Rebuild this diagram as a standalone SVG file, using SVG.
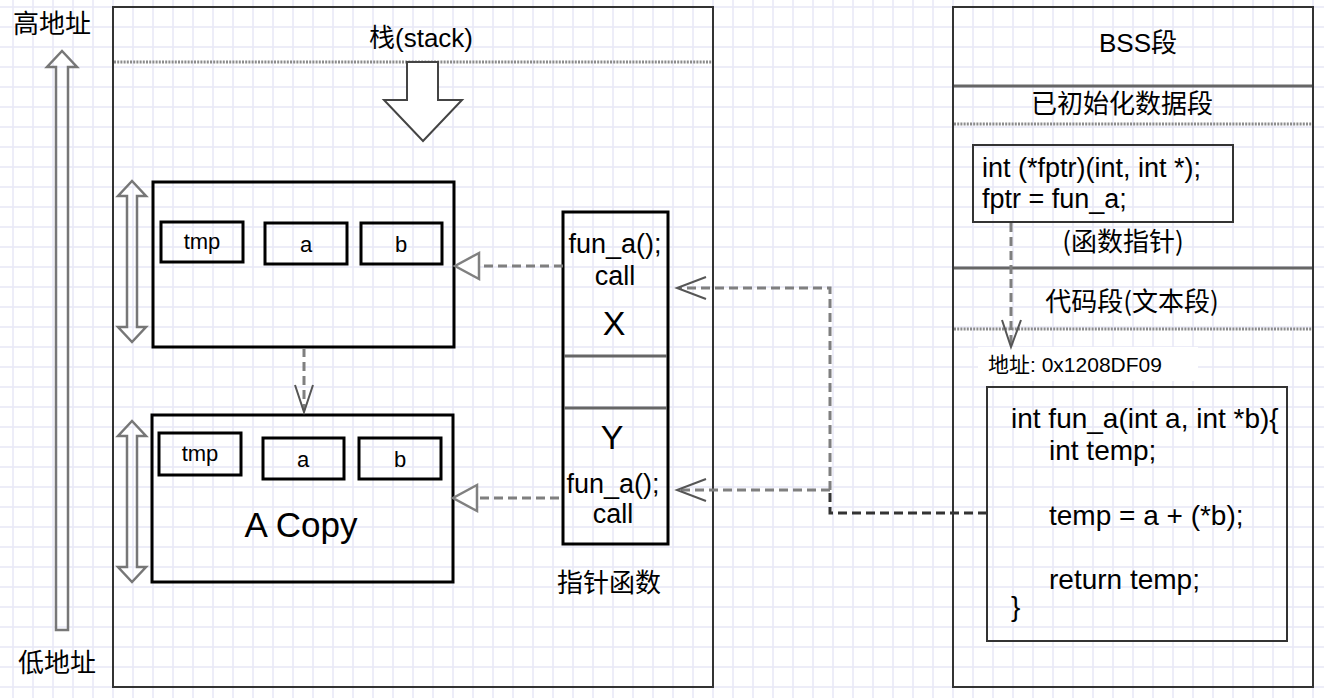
<svg xmlns="http://www.w3.org/2000/svg" width="1324" height="698" viewBox="0 0 1324 698">
<style>
  text { font-family: "Liberation Sans", "Noto Sans CJK SC", Arial, sans-serif; fill: #000; }
  .cjk { font-family: "Noto Sans CJK SC", "Liberation Sans", sans-serif; }
  .frame { fill: none; stroke: #333; stroke-width: 2; }
  .box { fill: none; stroke: #000; stroke-width: 3; }
  .cell { fill: none; stroke: #000; stroke-width: 3; }
  .thin { fill: none; stroke: #333; stroke-width: 2; }
  .dotted { stroke: #8c8c8c; stroke-width: 3; stroke-dasharray: 2 1.2; fill: none; }
  .sep { stroke: #666; stroke-width: 3; fill: none; }
  .blk { fill: none; stroke: #777; stroke-width: 2.5; stroke-linejoin: miter; }
  .dash { fill: none; stroke: #7f7f7f; stroke-width: 3; stroke-dasharray: 9 5; }
  .dashdark { fill: none; stroke: #333; stroke-width: 3; stroke-dasharray: 9 5; }
  .head { fill: none; stroke: #555; stroke-width: 2; }
  .tri { fill: #fff; stroke: #808080; stroke-width: 2.5; }
  .c { text-anchor: middle; }
</style>
<defs>
  <pattern id="grid" x="3" y="-3" width="20" height="20" patternUnits="userSpaceOnUse">
    <path d="M10 0 V20 M0 10 H20" stroke="#e8e8f6" stroke-width="1.5" fill="none"/>
  </pattern>
</defs>
<rect x="0" y="0" width="1324" height="698" fill="#fff"/>
<rect x="0" y="0" width="1324" height="698" fill="url(#grid)"/>

<!-- address axis -->
<g id="axis">
  <text class="cjk c" x="52" y="33" font-size="26">高地址</text>
  <path class="blk" fill="#fff" d="M56 630 L56 67 L47 67 L62 51 L77 67 L68 67 L68 630 Z"/>
  <text class="cjk c" x="57" y="672" font-size="26">低地址</text>
</g>

<!-- stack frame -->
<g id="stack">
  <rect class="frame" x="113" y="7" width="600" height="680"/>
  <line class="dotted" x1="114" y1="62" x2="712" y2="62"/>
  <text class="c" x="421" y="47" font-size="26"><tspan class="cjk">栈</tspan>(stack)</text>
  <path fill="#fff" stroke="#444" stroke-width="2" d="M407 62 L407 100 L384 100 L423 141 L462 100 L438 100 L438 62 Z"/>
</g>

<!-- frame A -->
<g id="frameA">
  <path class="blk" fill="#fff" d="M127 196 L118 196 L132 181 L146 196 L137 196 L137 327 L146 327 L132 342 L118 327 L127 327 Z"/>
  <rect class="box" x="153" y="182" width="301" height="165"/>
  <rect class="cell" x="161" y="222" width="82" height="40"/>
  <text class="c" x="202" y="249" font-size="22">tmp</text>
  <rect class="cell" x="265" y="223" width="82" height="41"/>
  <text class="c" x="306" y="252" font-size="22">a</text>
  <rect class="cell" x="361" y="223" width="81" height="41"/>
  <text class="c" x="401" y="252" font-size="22">b</text>
</g>

<!-- frame A copy -->
<g id="frameACopy">
  <path class="blk" fill="#fff" d="M127 436 L118 436 L132 421 L146 436 L137 436 L137 567 L146 567 L132 582 L118 567 L127 567 Z"/>
  <rect class="box" x="152" y="415" width="301" height="167"/>
  <rect class="cell" x="159" y="433" width="82" height="42"/>
  <text class="c" x="200" y="461" font-size="22">tmp</text>
  <rect class="cell" x="263" y="438" width="81" height="41"/>
  <text class="c" x="303" y="467" font-size="22">a</text>
  <rect class="cell" x="359" y="438" width="82" height="41"/>
  <text class="c" x="400" y="467" font-size="22">b</text>
  <text class="c" x="301" y="537" font-size="35">A Copy</text>
</g>

<!-- pointer function column -->
<g id="pointerFunc">
  <rect class="box" x="563" y="212" width="105" height="332"/>
  <line class="sep" x1="564" y1="356" x2="667" y2="356"/>
  <line class="sep" x1="564" y1="408" x2="667" y2="408"/>
  <text class="c" x="615" y="253" font-size="27">fun_a();</text>
  <text class="c" x="615" y="285" font-size="27">call</text>
  <text class="c" x="614" y="335" font-size="34">X</text>
  <text class="c" x="612" y="449" font-size="34">Y</text>
  <text class="c" x="613" y="493" font-size="27">fun_a();</text>
  <text class="c" x="613" y="523" font-size="27">call</text>
  <text class="cjk c" x="609" y="592" font-size="26">指针函数</text>
</g>

<!-- segments frame -->
<g id="segments">
  <rect class="frame" x="953" y="7" width="360" height="680"/>
  <text class="c" x="1138" y="52" font-size="26">BSS<tspan class="cjk">段</tspan></text>
  <line class="sep" x1="954" y1="86" x2="1312" y2="86"/>
  <text class="cjk c" x="1122" y="113" font-size="26">已初始化数据段</text>
  <line class="dotted" x1="954" y1="124" x2="1312" y2="124"/>
  <text class="cjk c" x="1123" y="251" font-size="26">(函数指针)</text>
  <line class="sep" x1="954" y1="268" x2="1312" y2="268"/>
  <text class="cjk c" x="1132" y="311" font-size="26">代码段(文本段)</text>
  <line class="dotted" x1="954" y1="329" x2="1312" y2="329"/>
</g>

<g id="fptrDecl">
  <rect class="thin" x="973" y="145" width="260" height="77"/>
  <text x="982" y="177" font-size="27">int (*fptr)(int, int *);</text>
  <text x="982" y="208" font-size="27">fptr = fun_a;</text>
</g>

<g id="addrLabel">
  <rect x="978" y="347" width="220" height="34" fill="#fff"/>
  <text x="988" y="372" font-size="21"><tspan class="cjk">地址</tspan>: 0x1208DF09</text>
</g>

<g id="funA">
  <rect class="thin" x="987" y="387" width="300" height="254"/>
  <text x="1011" y="428" font-size="28">int fun_a(int a, int *b){</text>
  <text x="1049" y="460" font-size="28">int temp;</text>
  <text x="1049" y="525" font-size="28">temp = a + (*b);</text>
  <text x="1049" y="589" font-size="28">return temp;</text>
  <text x="1011" y="616" font-size="28">}</text>
</g>

<!-- connectors -->
<g id="connectors">
  <line class="dash" x1="304" y1="348" x2="304" y2="410"/>
  <path class="head" d="M295 385 L304 412 L313 385"/>
  <line class="dash" x1="563" y1="266" x2="479" y2="266"/>
  <path class="tri" d="M479 253 L455 266 L479 279 Z"/>
  <line class="dash" x1="559" y1="498" x2="477" y2="498"/>
  <path class="tri" d="M477 485 L453 498 L477 511 Z"/>
  <path class="dashdark" d="M987 513 L830 513 L830 490"/>
  <path class="dash" d="M830 490 L830 288 L679 288"/>
  <path class="dash" d="M830 490 L679 490"/>
  <path class="head" d="M706 277 L677 288 L706 299"/>
  <path class="head" d="M706 479 L677 490 L706 501"/>
  <line class="dash" x1="1011" y1="223" x2="1011" y2="345"/>
  <path class="head" d="M1002 320 L1011 347 L1021 320"/>
</g>
</svg>
